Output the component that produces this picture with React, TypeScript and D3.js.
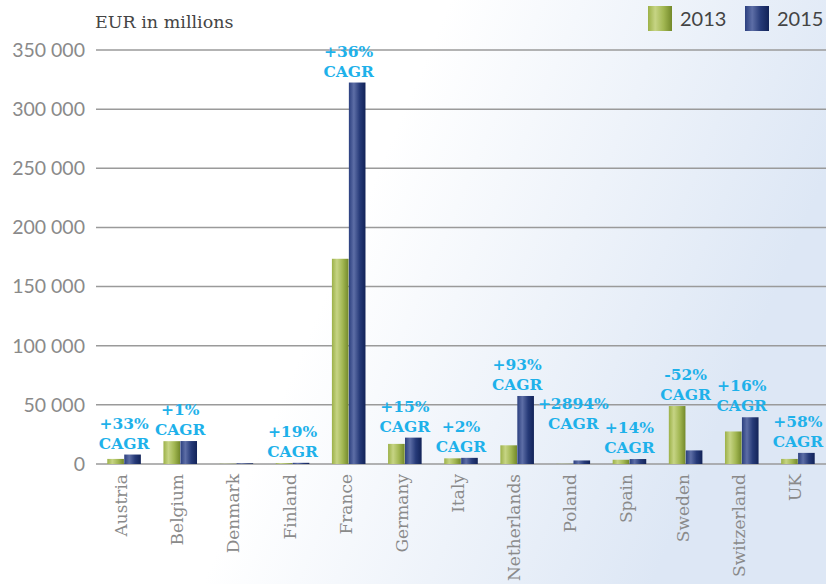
import React from "react";
import * as d3 from "d3";

const categories = ["Austria", "Belgium", "Denmark", "Finland", "France", "Germany", "Italy", "Netherlands", "Poland", "Spain", "Sweden", "Switzerland", "UK"];
const series2013 = [4300, 19300, 200, 700, 173500, 17000, 4800, 15800, 150, 3600, 49000, 27500, 4300];
const series2015 = [8000, 19400, 600, 1000, 322500, 22300, 5200, 57500, 3000, 4200, 11500, 39500, 9400];
const cagrLabels = ["+33%", "+1%", "", "+19%", "+36%", "+15%", "+2%", "+93%", "+2894%", "+14%", "-52%", "+16%", "+58%"];
const yTicks = [0, 50000, 100000, 150000, 200000, 250000, 300000, 350000];
const seriesNames = ["2013", "2015"];
const liftedLabels = ["Poland"];

const W = 826;
const H = 584;

export default function App() {
  const y = d3.scaleLinear().domain([0, 350000]).range([464, 50]);
  const x = d3.scaleBand<string>().domain(categories).range([96, 826]).paddingInner(0.39).paddingOuter(0.195);
  const xs = d3.scaleBand<string>().domain(seriesNames).range([0, x.bandwidth()]).padding(0.02);
  const fmt = (v: number) => d3.format(",")(v).replace(/,/g, " ");
  const seriesData = [series2013, series2015];
  const fills = ["url(#gGreen)", "url(#gNavy)"];
  const cagrFont = "'DejaVu Serif', serif";

  return (
    <svg width={W} height={H} style={{ position: "absolute", left: 0, top: 0, display: "block" }}>
      <defs>
        <linearGradient id="bg" x1="0" y1="0" x2="1" y2="0.3">
          <stop offset="0" stopColor="#ffffff" />
          <stop offset="0.5" stopColor="#ffffff" />
          <stop offset="1" stopColor="#dde7f5" />
        </linearGradient>
        <linearGradient id="gGreen" x1="0" y1="0" x2="1" y2="0">
          <stop offset="0" stopColor="#9cb148" />
          <stop offset="0.3" stopColor="#c6d484" />
          <stop offset="0.65" stopColor="#a2b752" />
          <stop offset="1" stopColor="#73892a" />
        </linearGradient>
        <linearGradient id="gNavy" x1="0" y1="0" x2="1" y2="0">
          <stop offset="0" stopColor="#2b3f7f" />
          <stop offset="0.3" stopColor="#5d6ea6" />
          <stop offset="0.65" stopColor="#263a78" />
          <stop offset="1" stopColor="#122358" />
        </linearGradient>
      </defs>
      <rect x={0} y={0} width={W} height={H} fill="url(#bg)" />

      <text x={95} y={28} fontFamily="'DejaVu Serif', serif" fontSize={17.5} fill="#444">EUR in millions</text>

      {yTicks.map((t) => (
        <g key={t}>
          <line x1={96} x2={826} y1={y(t)} y2={y(t)} stroke="#9a9a9a" strokeWidth={1.5} />
          <text x={85} y={y(t)} dy="0.35em" textAnchor="end" fontFamily="Lato, sans-serif" fontSize={19.5} fill="#8a8a8a">{fmt(t)}</text>
        </g>
      ))}

      {categories.map((c, i) => (
        <g key={c} transform={`translate(${x(c)},0)`}>
          {seriesData.map((s, k) => (
            <rect key={k} x={xs(seriesNames[k])} y={y(s[i])} width={xs.bandwidth()} height={y(0) - y(s[i])} fill={fills[k]} />
          ))}
        </g>
      ))}

      {categories.map((c, i) => {
        if (!cagrLabels[i]) return null;
        const top = y(Math.max(series2013[i], series2015[i]));
        const base = liftedLabels.includes(c) ? top - 31 : top - 6;
        const cx = (x(c) as number) + x.bandwidth() / 2;
        return (
          <g key={c} fontFamily={cagrFont} fontWeight="bold" fontSize={15.5} fill="#1eb1ea" textAnchor="middle">
            <text x={cx} y={base - 20}>{cagrLabels[i]}</text>
            <text x={cx} y={base}>CAGR</text>
          </g>
        );
      })}

      {categories.map((c) => {
        const cx = (x(c) as number) + x.bandwidth() / 2;
        return (
          <text key={c} transform={`translate(${cx + 3},474) rotate(-90)`} textAnchor="end" fontFamily="'DejaVu Serif', serif" fontSize={17} fill="#8a8a8a">{c}</text>
        );
      })}

      <rect x={648} y={6} width={24} height={25} fill="url(#gGreen)" />
      <text x={680} y={19} dy="0.35em" fontFamily="Lato, sans-serif" fontSize={20} fill="#444">2013</text>
      <rect x={745} y={6} width={24} height={25} fill="url(#gNavy)" />
      <text x={777} y={19} dy="0.35em" fontFamily="Lato, sans-serif" fontSize={20} fill="#444">2015</text>
    </svg>
  );
}
